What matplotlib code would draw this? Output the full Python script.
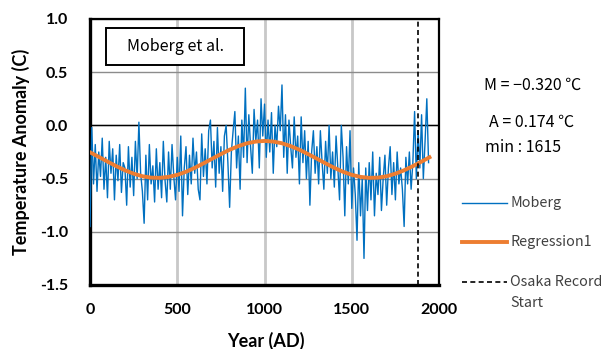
import matplotlib.pyplot as plt
from matplotlib.lines import Line2D
from matplotlib.patches import Rectangle
import numpy as np

# Dati (passo di 10 anni)
moberg_years = np.arange(0, 1950, 10)
moberg_temp = [
    -0.95, -0.02, -0.55, -0.18, -0.62, -0.25, -0.48, -0.12, -0.60, -0.30,
    -0.68, -0.15, -0.45, -0.22, -0.70, -0.28, -0.52, -0.18, -0.63, -0.35,
    -0.40, -0.75, -0.20, -0.58, -0.30, -0.66, -0.15, -0.50, 0.03, -0.45,
    -0.62, -0.92, -0.28, -0.70, -0.18, -0.55, -0.38, -0.72, -0.22, -0.60,
    -0.35, -0.68, -0.15, -0.52, -0.72, -0.25, -0.60, -0.18, -0.48, -0.70,
    -0.30, -0.62, -0.10, -0.85, -0.40, -0.20, -0.65, -0.28, -0.55, -0.12,
    -0.45, -0.25, -0.60, -0.70, -0.08, -0.48, -0.22, -0.55, -0.05, 0.05,
    -0.40, -0.15, -0.58, -0.02, -0.45, -0.20, -0.62, -0.10, 0.00, -0.35,
    -0.77, -0.25, -0.05, 0.13, -0.40, -0.10, -0.60, 0.05, -0.30, 0.35,
    -0.35, 0.10, -0.20, -0.45, 0.15, -0.15, 0.05, -0.40, 0.25, -0.10,
    0.20, -0.30, 0.05, -0.25, 0.12, -0.45, 0.00, -0.20, 0.18, -0.05,
    0.38, -0.30, 0.10, -0.45, 0.05, -0.20, -0.40, 0.08, -0.30, -0.10,
    -0.55, 0.08, -0.35, -0.05, -0.50, -0.15, -0.75, -0.25, -0.05, -0.45,
    -0.20, -0.55, -0.05, -0.35, -0.60, -0.15, -0.45, 0.00, -0.50, -0.25,
    -0.58, -0.10, -0.40, -0.70, 0.00, -0.30, -0.85, -0.20, -0.55, -0.05,
    -0.78, -0.40, -0.65, -1.08, -0.35, -0.85, -0.50, -1.25, -0.40, -0.80,
    -0.35, -0.70, -0.25, -0.85, -0.45, -0.65, -0.30, -0.80, -0.50, -0.28,
    -0.75, -0.40, -0.20, -0.65, -0.35, -0.70, -0.25, -0.55, -0.40, -0.60,
    -0.95, -0.30, -0.55, -0.25, -0.60, -0.35, 0.13, -0.50, -0.05, -0.40,
    0.10, -0.50, -0.15, 0.25, -0.35,
]

reg_years = [0, 50, 100, 150, 200, 250, 300, 350, 400, 450, 500, 550, 600, 650,
             700, 750, 800, 850, 900, 950, 1000, 1050, 1100, 1150, 1200, 1250,
             1300, 1350, 1400, 1450, 1500, 1550, 1600, 1650, 1700, 1750, 1800,
             1850, 1900, 1945]
reg_temp = [-0.253, -0.296, -0.340, -0.383, -0.422, -0.454, -0.478, -0.491,
            -0.493, -0.484, -0.465, -0.436, -0.399, -0.357, -0.313, -0.270,
            -0.229, -0.195, -0.168, -0.152, -0.146, -0.152, -0.168, -0.195,
            -0.229, -0.270, -0.313, -0.357, -0.399, -0.436, -0.465, -0.484,
            -0.493, -0.491, -0.478, -0.454, -0.422, -0.383, -0.340, -0.300]

osaka_start = 1880
y_ticks = [-1.5, -1.0, -0.5, 0.0, 0.5, 1.0]
x_ticks = [0, 500, 1000, 1500, 2000]

blue = '#0070C0'
orange = '#ED7D31'

plt.rcParams['axes.unicode_minus'] = False
axis_font = ['Lato', 'DejaVu Sans']
jp_font = ['Noto Sans CJK JP', 'DejaVu Sans']

fig = plt.figure(figsize=(6.01, 3.49), dpi=100)
ax = fig.add_axes([0.1498, 0.1834, 0.5807, 0.7622])

ax.plot(moberg_years, moberg_temp, color=blue, linewidth=1.0, zorder=3)
ax.plot(reg_years, reg_temp, color=orange, linewidth=2.8, zorder=4)
ax.axvline(osaka_start, color='black', linewidth=1.2, linestyle=(0, (3, 2)), zorder=5)

# Assi e griglia
ax.set_xlim(0, 2000)
ax.set_ylim(-1.5, 1.0)
ax.set_xticks(x_ticks)
ax.set_yticks(y_ticks)
ax.set_yticklabels([f'{v:.1f}' for v in y_ticks])
ax.tick_params(length=0, labelsize=11.5)
ax.tick_params(axis='y', pad=16)
ax.tick_params(axis='x', pad=13)
for lab in ax.get_xticklabels() + ax.get_yticklabels():
    lab.set_family(axis_font)
    lab.set_fontweight('bold')

ax.set_axisbelow(True)
ax.grid(axis='x', color='#c8c8c8', linewidth=2)
ax.grid(axis='y', color='#8c8c8c', linewidth=1)
ax.axhline(0, color='black', linewidth=1, zorder=1)

for side in ['left', 'bottom']:
    ax.spines[side].set_linewidth(2.4)
for side in ['top', 'right']:
    ax.spines[side].set_linewidth(1.6)

ax.set_xlabel('Year (AD)', fontsize=13, fontweight='bold', family=axis_font)
ax.set_ylabel('Temperature Anomaly (C)', fontsize=13, fontweight='bold', family=axis_font)
ax.xaxis.set_label_coords(0.504, -0.175)
ax.yaxis.set_label_coords(-0.172, 0.5)

# Riquadro titolo
ax.add_patch(Rectangle((0.0458, 0.827), 0.395, 0.139, transform=ax.transAxes,
                       facecolor='white', edgecolor='black', linewidth=1.4, zorder=6))
ax.text(0.2436, 0.895, 'Moberg et al.', transform=ax.transAxes, ha='center', va='center',
        fontsize=11.5, family=jp_font, zorder=7)

# Parametri della regressione
fig.text(533 / 601, 1 - 85 / 349, 'M = −0.320 ℃', ha='center', va='center', fontsize=11.5, family=jp_font)
fig.text(532 / 601, 1 - 122 / 349, 'A = 0.174 ℃', ha='center', va='center', fontsize=11.5, family=jp_font)
fig.text(485 / 601, 1 - 148 / 349, 'min : 1615', ha='left', va='center', fontsize=11.5, family=jp_font)

# Legenda
legend_items = [
    (203, dict(color=blue, linewidth=1.0), 'Moberg'),
    (242, dict(color=orange, linewidth=2.8), 'Regression1'),
    (282, dict(color='black', linewidth=1.2, linestyle=(0, (3, 2))), 'Osaka Record'),
]
for ypx, style, label in legend_items:
    y = 1 - ypx / 349
    fig.add_artist(Line2D([462 / 601, 507 / 601], [y, y], transform=fig.transFigure, **style))
    fig.text(510 / 601, y, label, ha='left', va='center', fontsize=10.3, family=jp_font, color='#404040')
fig.text(510 / 601, 1 - 303 / 349, 'Start', ha='left', va='center', fontsize=10.3, family=jp_font, color='#404040')

fig.savefig('out.png', dpi=100)
